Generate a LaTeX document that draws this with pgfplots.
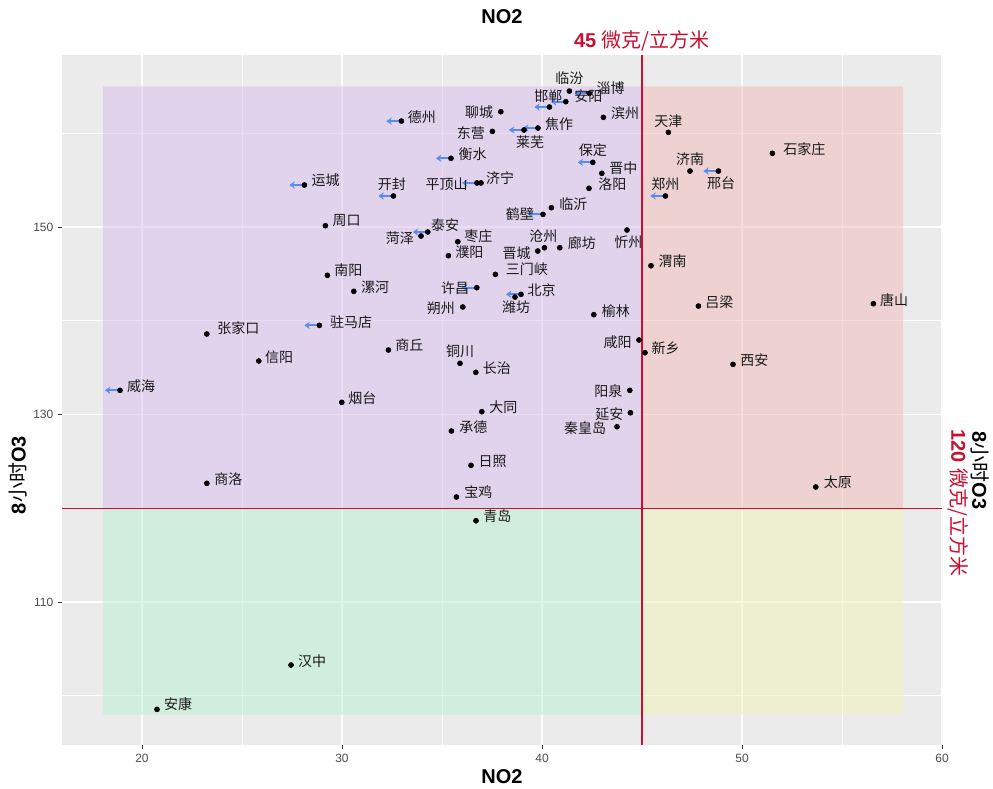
\documentclass[border=0pt]{standalone}
\usepackage{fontspec}
\setmainfont{Liberation Sans}
\newfontfamily\cjk{Noto Sans CJK SC}
\usepackage{pgfplots}
\usepackage{pgfplotstable}
\pgfplotsset{compat=1.18}
\usetikzlibrary{calc,arrows.meta}

\definecolor{panelbg}{RGB}{235,235,235}
\definecolor{qpurple}{RGB}{217,193,237}
\definecolor{qpink}{RGB}{241,189,189}
\definecolor{qgreen}{RGB}{187,239,211}
\definecolor{qyellow}{RGB}{241,241,189}
\definecolor{limred}{RGB}{200,16,46}
\definecolor{arrowblue}{RGB}{90,140,240}
\definecolor{ticktext}{RGB}{77,77,77}
\definecolor{labeltext}{RGB}{25,25,25}

% NO2, O3, label offset (pt), city
\pgfplotstableread[col sep=comma]{
x,y,dx,dy,name
41.37,164.50,0,9.8,临汾
42.37,164.26,16,3.8,淄博
41.19,163.37,17,3.8,安阳
40.37,162.80,-0.8,8.3,邯郸
37.94,162.30,-16.3,0,聊城
43.07,161.70,16.3,3,滨州
32.97,161.30,15.3,3.2,德州
39.80,160.56,15.8,3,焦作
39.10,160.35,4.5,-8.8,莱芜
37.52,160.20,-16.2,-1,东营
46.32,160.10,0,8.5,天津
35.45,157.33,16.3,3.2,衡水
42.54,156.90,0,9.2,保定
42.99,155.73,16.2,3.8,晋中
51.52,157.86,24,3,石家庄
47.40,155.97,0,8.8,济南
48.82,155.97,2,-9.2,邢台
46.17,153.31,0,8.8,郑州
28.12,154.48,16,3.8,运城
32.57,153.31,-1.2,8.8,开封
36.75,154.70,-22.7,-0.8,平顶山
36.95,154.70,14.3,3.5,济宁
42.35,154.13,17.5,3.2,洛阳
40.47,152.06,16.5,2.8,临沂
40.05,151.35,-17.3,0,鹤壁
29.17,150.14,16,3.5,周口
34.29,149.47,13,5.3,泰安
33.95,149.04,-15.8,-1.7,菏泽
35.79,148.43,15.5,4.3,枣庄
44.25,149.68,1,-8.8,忻州
40.12,147.79,-0.8,9,沧州
39.79,147.44,-15.8,-1.3,晋城
40.89,147.79,16.5,3.8,廊坊
35.32,146.94,15.8,3,濮阳
45.45,145.87,16.3,3.5,渭南
37.67,144.95,23.6,3.8,三门峡
29.27,144.85,15.8,3.5,南阳
30.59,143.14,16,3,漯河
36.74,143.53,-16.3,-0.5,许昌
38.95,142.82,15.5,3.2,北京
38.65,142.53,0.8,-7.3,潍坊
36.04,141.47,-16.5,-1,朔州
47.82,141.57,15.8,3.2,吕梁
56.57,141.82,15.5,2.8,唐山
42.59,140.65,16.5,2.8,榆林
28.87,139.51,23.8,2.7,驻马店
23.24,138.59,23.7,4.3,张家口
32.32,136.88,15.8,3.8,商丘
44.85,137.95,-16,-1.3,咸阳
45.15,136.59,15.5,3.3,新乡
25.84,135.71,15.2,3.2,信阳
35.90,135.46,0,8.7,铜川
49.55,135.35,16,3.2,西安
36.69,134.50,15.8,3,长治
18.90,132.58,15.8,3.2,威海
44.39,132.58,-16,-0.5,阳泉
29.99,131.30,15.5,3.5,烟台
36.99,130.30,16.2,3.3,大同
44.42,130.19,-15.8,-1.2,延安
43.75,128.70,-24,-0.8,秦皇岛
35.47,128.24,16.5,3.2,承德
36.45,124.58,16.3,2.7,日照
53.69,122.27,16.5,3.5,太原
23.24,122.66,16.2,3.2,商洛
35.72,121.20,16.5,3.5,宝鸡
36.70,118.67,16,3.5,青岛
27.45,103.28,15.8,3,汉中
20.75,98.55,15.8,3.8,安康
}\cities

% cities that moved (arrow drawn to the left)
\pgfplotstableread{
x y
42.37 164.26
41.19 163.37
40.37 162.80
32.97 161.30
39.80 160.56
39.10 160.35
35.45 157.33
42.54 156.90
48.82 155.97
46.17 153.31
28.12 154.48
32.57 153.31
36.75 154.70
40.05 151.35
34.29 149.47
36.74 143.53
38.95 142.82
28.87 139.51
18.90 132.58
}\moved

\begin{document}
\begin{tikzpicture}
\begin{axis}[
    scale only axis,
    width=660pt, height=517.5pt,
    xmin=16, xmax=60, ymin=94.75, ymax=168.35,
    clip=false,
    axis background/.style={fill=panelbg},
    axis line style={draw=none},
    xtick={20,30,40,50,60}, ytick={110,130,150},
    minor xtick={25,35,45,55}, minor ytick={100,120,140,160},
    grid=both,
    major grid style={white, line width=1.1pt},
    minor grid style={white, line width=0.55pt},
    xtick pos=bottom, ytick pos=left,
    tick align=outside, major tick length=3pt, minor tick length=0pt,
    tick style={black!80, line width=0.7pt},
    ticklabel style={font=\fontsize{9}{10}\selectfont, text=ticktext},
    /pgf/number format/assume math mode=true,
]
% quadrant backgrounds
\addplot[draw=none, fill=qpurple, fill opacity=0.55] coordinates {(18.05,120) (45,120) (45,165) (18.05,165) (18.05,120)};
\addplot[draw=none, fill=qpink, fill opacity=0.55] coordinates {(45,120) (58.05,120) (58.05,165) (45,165) (45,120)};
\addplot[draw=none, fill=qgreen, fill opacity=0.55] coordinates {(18.05,98) (45,98) (45,120) (18.05,120) (18.05,98)};
\addplot[draw=none, fill=qyellow, fill opacity=0.55] coordinates {(45,98) (58.05,98) (58.05,120) (45,120) (45,98)};

% limit lines
\addplot[limred, line width=1pt] coordinates {(45,94.75) (45,168.35)};
\addplot[limred, line width=1pt] coordinates {(16,120) (60,120)};

% arrows
\addplot[arrowblue, line width=1.6pt, -{Stealth[length=4pt,width=5.5pt]},
    quiver={u=-0.75, v=0}] table[x=x, y=y] {\moved};

% cities
\addplot[only marks, mark=*, mark size=1.9pt, black,
    nodes near coords, point meta=explicit symbolic,
    visualization depends on={\thisrow{dx}\as\dx},
    visualization depends on={\thisrow{dy}\as\dy},
    every node near coord/.style={anchor=center, xshift=\dx pt, yshift=\dy pt,
        inner sep=0pt, text=labeltext, font=\cjk\fontsize{10.5}{12}\selectfont}]
    table[x=x, y=y, meta=name] {\cities};

\coordinate (bl) at (rel axis cs:0,0);
\coordinate (tr) at (rel axis cs:1,1);
\coordinate (pbot) at (rel axis cs:0.5,0);
\coordinate (ptop) at (rel axis cs:0.5,1);
\coordinate (plim) at (rel axis cs:0.659,1);
\coordinate (pleft) at (rel axis cs:0,0.391);
\coordinate (pright) at (rel axis cs:1,0.461);
\coordinate (pright2) at (rel axis cs:1,0.464);
\end{axis}

% titles
\node[font=\fontsize{15}{17}\selectfont\bfseries] at ($(pbot)+(0,-24pt)$) {NO2};
\node[font=\fontsize{15}{17}\selectfont\bfseries] at ($(ptop)+(0,28.5pt)$) {NO2};
\node[text=limred, font=\fontsize{15}{17}\selectfont] at ($(plim)+(0,10.5pt)$)
    {\textbf{45} {\cjk 微克/立方米}};
\node[rotate=90, font=\fontsize{15}{17}\selectfont] at ($(pleft)+(-33pt,0)$)
    {\textbf{8}{\cjk 小时}\textbf{O3}};
\node[rotate=-90, anchor=west, font=\fontsize{15}{17}\selectfont] at ($(pright)+(28.5pt,0)$)
    {\textbf{8}{\cjk 小时}\textbf{O3}};
\node[rotate=-90, anchor=west, text=limred, font=\fontsize{15}{17}\selectfont] at ($(pright2)+(12pt,0)$)
    {\textbf{120} {\cjk 微克/立方米}};

\pgfresetboundingbox
\path ($(bl)+(-46.5pt,-33pt)$) rectangle ($(tr)+(38.25pt,41.25pt)$);
\end{tikzpicture}
\end{document}
